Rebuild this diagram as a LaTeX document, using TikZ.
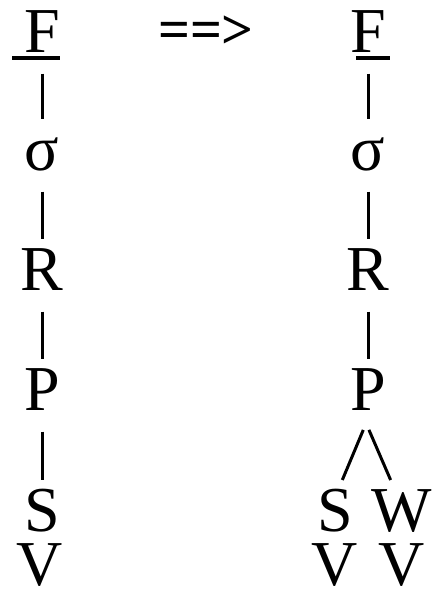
\documentclass[tikz,border=0pt]{standalone}
\usepackage{fontspec}
\setmainfont{Liberation Serif}
\usetikzlibrary{positioning}

\begin{document}
\begin{tikzpicture}[x=1pt, y=-1pt, line width=3pt,
    lbl/.style={anchor=base, inner sep=0pt, text height=44pt, text depth=0pt,
                font=\fontsize{64}{64}\selectfont},
    bar/.style={shorten <=20pt, shorten >=6pt},
    uline/.style={line width=3.6pt}]
    \useasboundingbox (0,0) rectangle (432,590);
    % left tree
    \node[lbl] (fl) at (42,52)  {F};
    \node[lbl] (sgl) at (42,170) {σ};
    \node[lbl] (rl) at (42,290) {R};
    \node[lbl] (pl) at (42,410) {P};
    \node[lbl] (sl) at (42,531) {S};
    \node[lbl] (vl) at (40,585) {V};
    \draw[uline] ([shift={(-30pt,-6pt)}]fl.base) -- ([shift={(18pt,-6pt)}]fl.base);
    \draw[bar] (fl) -- (sgl);
    \draw[bar] (sgl) -- (rl);
    \draw[bar] (rl) -- (pl);
    \draw[bar] (pl) -- (sl);
    % arrow
    \node[anchor=base, inner sep=0pt, font=\fontsize{56}{56}\selectfont\bfseries]
        (arr) at (206,48) {==>};
    % right tree
    \node[lbl] (fr) at (368,52)  {F};
    \node[lbl] (sgr) at (368,170) {σ};
    \node[lbl] (rr) at (368,290) {R};
    \node[lbl] (pr) at (368,410) {P};
    \node[lbl] (sr) at (335,531) {S};
    \node[lbl] (wr) at (402,531) {W};
    \node[lbl] (vr1) at (335,585) {V};
    \node[lbl] (vr2) at (402,585) {V};
    \draw[uline] ([shift={(-12pt,-6pt)}]fr.base) -- ([shift={(22pt,-6pt)}]fr.base);
    \draw[bar] (fr) -- (sgr);
    \draw[bar] (sgr) -- (rr);
    \draw[bar] (rr) -- (pr);
    \draw[bar] ([xshift=3pt]pr.south) -- ([xshift=5pt]sr.north);
    \draw[bar] ([xshift=-7pt]pr.south) -- ([xshift=-9pt]wr.north);
\end{tikzpicture}
\end{document}
